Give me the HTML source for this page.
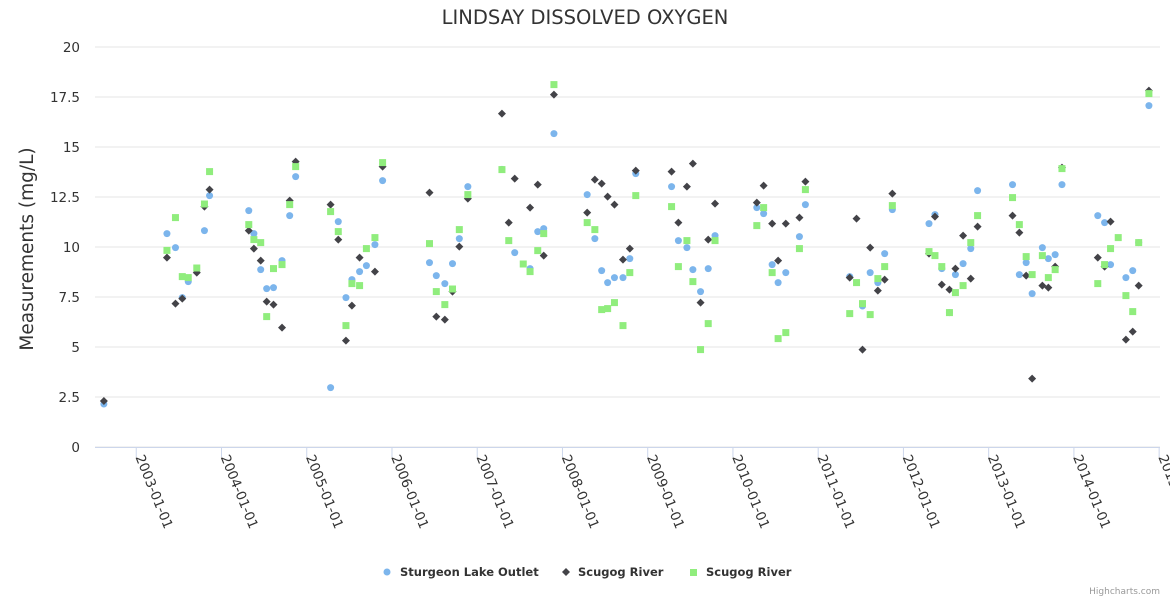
<!DOCTYPE html>
<html><head><meta charset="utf-8"><style>
body{margin:0;background:#fff;font-family:"DejaVu Sans",sans-serif}
svg text{font-family:"DejaVu Sans",sans-serif}
</style></head><body>
<svg id="chart" width="1170" height="600" xmlns="http://www.w3.org/2000/svg">
<text x="585" y="24" text-anchor="middle" font-size="19.5" fill="#333">LINDSAY DISSOLVED OXYGEN</text>
<text transform="translate(33,249) rotate(-90)" text-anchor="middle" font-size="18.5" fill="#333">Measurements (mg/L)</text>
<g id="grid"></g><g id="xaxis"></g><g id="marks"></g>
<g font-size="11.5" font-weight="bold" fill="#333">
<g><circle cx="387" cy="572" r="3.5" fill="#7cb5ec"/><text x="400" y="576">Sturgeon Lake Outlet</text></g>
<g><path d="M566 568 L570 572 L566 576 L562 572Z" fill="#434348"/><text x="578" y="576">Scugog River</text></g>
<g><rect x="690" y="569" width="7" height="7" fill="#90ed7d"/><text x="706" y="576">Scugog River</text></g>
</g>
<text x="1160" y="594" text-anchor="end" font-size="9" fill="#999">Highcharts.com</text>
</svg>
<script>
const yTicks=[0,2.5,5,7.5,10,12.5,15,17.5,20];
const yTickLabels=["0","2.5","5","7.5","10","12.5","15","17.5","20"];
const xTicks=[2003,2004,2005,2006,2007,2008,2009,2010,2011,2012,2013,2014,2015];
const xTickLabels=["2003-01-01","2004-01-01","2005-01-01","2006-01-01","2007-01-01","2008-01-01","2009-01-01","2010-01-01","2011-01-01","2012-01-01","2013-01-01","2014-01-01","2015-01-01"];
const sturgeon=[[2002.62,2.15],[2003.36,10.67],[2003.46,9.97],[2003.54,7.47],[2003.61,8.27],[2003.80,10.82],[2003.86,12.57],
[2004.32,11.82],[2004.38,10.67],[2004.46,8.87],[2004.53,7.92],[2004.61,7.97],[2004.71,9.32],[2004.80,11.57],[2004.87,13.52],
[2005.28,2.97],[2005.37,11.27],[2005.46,7.47],[2005.53,8.37],[2005.62,8.77],[2005.70,9.07],[2005.80,10.12],[2005.89,13.32],
[2006.44,9.22],[2006.52,8.57],[2006.62,8.17],[2006.71,9.17],[2006.79,10.42],[2006.89,13.02],
[2007.29,13.88],[2007.44,9.72],[2007.62,8.92],[2007.71,10.77],[2007.78,10.92],[2007.90,15.67],
[2008.29,12.62],[2008.38,10.42],[2008.46,8.82],[2008.53,8.22],[2008.61,8.47],[2008.71,8.47],[2008.79,9.42],[2008.86,13.67],
[2009.28,13.02],[2009.36,10.32],[2009.46,9.97],[2009.53,8.87],[2009.62,7.77],[2009.71,8.92],[2009.79,10.57],
[2010.28,11.97],[2010.36,11.67],[2010.46,9.12],[2010.53,8.22],[2010.62,8.72],[2010.78,10.52],[2010.85,12.12],
[2011.37,8.52],[2011.52,7.05],[2011.61,8.72],[2011.70,8.22],[2011.78,9.67],[2011.87,11.87],
[2012.30,11.17],[2012.37,11.62],[2012.45,8.92],[2012.54,6.72],[2012.61,8.62],[2012.70,9.17],[2012.79,9.92],[2012.87,12.82],
[2013.28,13.12],[2013.36,8.62],[2013.44,9.22],[2013.51,7.67],[2013.63,9.97],[2013.70,9.42],[2013.78,9.62],[2013.86,13.12],
[2014.28,11.57],[2014.36,11.22],[2014.43,9.12],[2014.61,8.47],[2014.69,8.82],[2014.76,10.22],[2014.88,17.07]];
const scugogBlack=[[2002.62,2.3],[2003.36,9.47],[2003.46,7.17],[2003.54,7.42],[2003.71,8.72],[2003.80,12.02],[2003.86,12.87],
[2004.32,10.82],[2004.38,9.92],[2004.46,9.32],[2004.53,7.27],[2004.61,7.12],[2004.71,5.97],[2004.80,12.32],[2004.87,14.27],
[2005.28,12.12],[2005.37,10.37],[2005.46,5.32],[2005.53,7.07],[2005.62,9.47],[2005.80,8.77],[2005.89,14.02],
[2006.44,12.72],[2006.52,6.52],[2006.62,6.37],[2006.71,7.77],[2006.79,10.02],[2006.89,12.42],
[2007.29,16.67],[2007.37,11.22],[2007.44,13.42],[2007.62,11.97],[2007.71,13.12],[2007.78,9.57],[2007.90,17.62],
[2008.29,11.72],[2008.38,13.37],[2008.46,13.17],[2008.53,12.52],[2008.61,12.12],[2008.71,9.37],[2008.79,9.92],[2008.86,13.82],
[2009.28,13.77],[2009.36,11.22],[2009.46,13.02],[2009.53,14.17],[2009.62,7.22],[2009.71,10.37],[2009.79,12.17],
[2010.28,12.22],[2010.36,13.07],[2010.46,11.17],[2010.53,9.32],[2010.62,11.17],[2010.78,11.47],[2010.85,13.27],
[2011.37,8.47],[2011.45,11.42],[2011.52,4.87],[2011.61,9.97],[2011.70,7.82],[2011.78,8.37],[2011.87,12.67],
[2012.30,9.67],[2012.37,11.52],[2012.45,8.12],[2012.54,7.87],[2012.61,8.92],[2012.70,10.57],[2012.79,8.42],[2012.87,11.02],
[2013.28,11.57],[2013.36,10.72],[2013.44,8.57],[2013.51,3.42],[2013.63,8.07],[2013.70,7.97],[2013.78,9.02],[2013.86,13.97],
[2014.28,9.47],[2014.36,9.02],[2014.43,11.27],[2014.61,5.37],[2014.69,5.77],[2014.76,8.07],[2014.88,17.82]];
const scugogGreen=[[2003.36,9.83],[2003.46,11.47],[2003.54,8.52],[2003.61,8.47],[2003.71,8.95],[2003.80,12.15],[2003.86,13.77],
[2004.32,11.12],[2004.38,10.37],[2004.46,10.22],[2004.53,6.52],[2004.61,8.92],[2004.71,9.12],[2004.80,12.12],[2004.87,14.02],
[2005.28,11.77],[2005.37,10.77],[2005.46,6.07],[2005.53,8.17],[2005.62,8.07],[2005.70,9.92],[2005.80,10.47],[2005.89,14.22],
[2006.44,10.17],[2006.52,7.77],[2006.62,7.12],[2006.71,7.9],[2006.79,10.87],[2006.89,12.62],
[2007.29,13.87],[2007.37,10.32],[2007.54,9.15],[2007.62,8.77],[2007.71,9.82],[2007.78,10.67],[2007.90,18.12],
[2008.29,11.22],[2008.38,10.87],[2008.46,6.87],[2008.53,6.92],[2008.61,7.22],[2008.71,6.07],[2008.79,8.72],[2008.86,12.57],
[2009.28,12.02],[2009.36,9.02],[2009.46,10.32],[2009.53,8.27],[2009.62,4.87],[2009.71,6.17],[2009.79,10.32],
[2010.28,11.07],[2010.36,11.97],[2010.46,8.72],[2010.53,5.42],[2010.62,5.72],[2010.78,9.92],[2010.85,12.87],
[2011.37,6.67],[2011.45,8.22],[2011.52,7.17],[2011.61,6.62],[2011.70,8.42],[2011.78,9.02],[2011.87,12.07],
[2012.30,9.77],[2012.37,9.57],[2012.45,9.02],[2012.54,6.72],[2012.61,7.72],[2012.70,8.07],[2012.79,10.22],[2012.87,11.57],
[2013.28,12.47],[2013.36,11.12],[2013.44,9.52],[2013.51,8.62],[2013.63,9.57],[2013.70,8.47],[2013.78,8.87],[2013.86,13.92],
[2014.28,8.17],[2014.36,9.12],[2014.43,9.92],[2014.52,10.47],[2014.61,7.57],[2014.69,6.77],[2014.76,10.22],[2014.88,17.67]];

const NS="http://www.w3.org/2000/svg";
const L=95,R=1160,T=47,B=447,XMIN=2002.516,XMAX=2015.01,YMAX=20;
const xs=v=>L+(v-XMIN)/(XMAX-XMIN)*(R-L);
const ys=v=>B-v/YMAX*(B-T);
function mk(tag,attrs,parent){const e=document.createElementNS(NS,tag);for(const k in attrs)e.setAttribute(k,attrs[k]);parent.appendChild(e);return e;}
const grid=document.getElementById('grid'),xa=document.getElementById('xaxis'),marks=document.getElementById('marks');
yTicks.forEach((t,i)=>{
  const ln=mk('line',{x1:L,x2:R,y1:ys(t),y2:ys(t),stroke:'#e6e6e6','stroke-width':1},grid);
  
  
  const tx=mk('text',{x:80,y:ys(t)+5,'text-anchor':'end','font-size':13.5,fill:'#333'},grid);
  tx.textContent=yTickLabels[i];
  
  
});
const ax=mk('line',{x1:L,x2:R,y1:B+0.5,y2:B+0.5,stroke:'#ccd6eb'},xa);


xTicks.forEach((t,i)=>{
  const x=xs(t);
  const tk=mk('line',{x1:x,x2:x,y1:B,y2:B+10,stroke:'#ccd6eb'},xa);
  
  
  const tx=mk('text',{transform:`translate(${x-1},${B+10}) rotate(68)`,'font-size':13.5,fill:'#333'},xa);
  tx.textContent=xTickLabels[i];
  
  
});
sturgeon.forEach(d=>{
  const c=mk('circle',{cx:xs(d[0]),cy:ys(d[1]),r:3.5,fill:'#7cb5ec'},marks);
  
  
});
scugogBlack.forEach(d=>{
  const x=xs(d[0]),y=ys(d[1]);
  const p=mk('path',{d:`M${x} ${y-4}L${x+4} ${y}L${x} ${y+4}L${x-4} ${y}Z`,fill:'#434348'},marks);
  
  
});
scugogGreen.forEach(d=>{
  const r=mk('rect',{x:xs(d[0])-3.5,y:ys(d[1])-3.5,width:7,height:7,fill:'#90ed7d'},marks);
  
  
});
</script>
</body></html>
